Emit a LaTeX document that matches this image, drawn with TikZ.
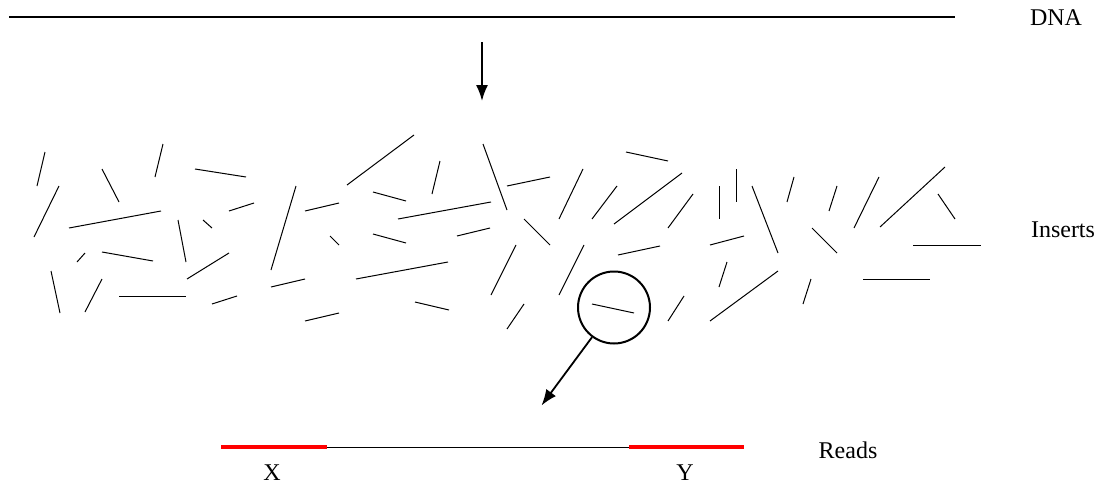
\documentclass[tikz,border=0pt]{standalone}
\usepackage{fontspec}
\setmainfont{Liberation Serif}
\usetikzlibrary{arrows.meta}
\begin{document}
\begin{tikzpicture}[x=0.5pt,y=-0.5pt,
  frag/.style={line width=0.5pt,black},
  label/.style={font=\fontsize{12}{14}\selectfont,inner sep=0pt},
  bigarrow/.style={line width=0.9pt,-{Latex[length=8pt,width=6pt]}},
  readline/.style={line width=1.7pt,red},
  lens/.style={circle,draw,line width=1pt,minimum size=36pt,inner sep=0pt}]
\useasboundingbox (0,0) rectangle (1099,487);
% DNA
\coordinate (dnaL) at (9,17);
\coordinate (dnaR) at (955,17);
\draw[line width=0.6pt] (dnaL) -- (dnaR);
\node[label] (dna) at (1056,18) {DNA};
\coordinate (a1) at (482,42);
\coordinate (a2) at (482,101);
\draw[bigarrow] (a1) -- (a2);
% inserts
\foreach \p/\q in {
 {45,152}/{37,186}, {59,186}/{34,237}, {102,169}/{119,202}, {163,144}/{155,177},
 {195,169}/{246,177}, {69,228}/{161,211}, {229,211}/{254,203}, {203,220}/{212,228},
 {178,220}/{186,262}, {85,253}/{77,262}, {102,252}/{153,261}, {51,271}/{60,313},
 {102,279}/{85,312}, {119,296}/{186,296}, {229,253}/{187,279}, {237,296}/{212,304},
 {414,135}/{347,185}, {440,161}/{432,194}, {483,144}/{507,210}, {296,186}/{271,270},
 {305,211}/{339,203}, {373,192}/{406,201}, {398,219}/{491,202}, {457,236}/{490,228},
 {330,236}/{339,245}, {373,234}/{406,243}, {271,287}/{305,279}, {356,279}/{448,262},
 {415,302}/{449,310}, {305,321}/{339,313}, {516,245}/{491,295}, {524,304}/{507,329},
 {626,152}/{668,161}, {507,186}/{550,177}, {583,169}/{559,219}, {617,186}/{592,219},
 {682,173}/{614,224}, {693,194}/{668,228}, {719,186}/{719,219}, {736,169}/{736,202},
 {524,219}/{550,245}, {710,245}/{744,236}, {618,255}/{660,246}, {727,262}/{719,287},
 {584,245}/{559,295}, {684,296}/{668,321}, {778,271}/{710,321}, {752,186}/{778,253},
 {794,177}/{787,202}, {837,186}/{829,211}, {879,177}/{854,228}, {945,167}/{880,227},
 {938,194}/{955,219}, {812,228}/{837,253}, {913,245}/{981,245}, {863,279}/{930,279},
 {811,279}/{803,304}, {592,304}/{634,313}}
 {\draw[frag] (\p) -- (\q);}
\node[label] (ins) at (1063,230) {Inserts};
% magnifier
\node[lens] (lensc) at (614,307.5) {};
\coordinate (tip) at (541.5,405.5);
\draw[bigarrow] (lensc) -- (tip);
% reads
\coordinate (r1) at (221,447);
\coordinate (r2) at (327,447);
\coordinate (r3) at (629,447);
\coordinate (r4) at (744,447);
\draw[line width=0.5pt] (r2) -- (r3);
\draw[readline] (r1) -- (r2);
\draw[readline] (r3) -- (r4);
\node[label] (reads) at (848,450) {Reads};
\node[label] (xl) at (272,473) {X};
\node[label] (yl) at (685,473) {Y};
\end{tikzpicture}
\end{document}
